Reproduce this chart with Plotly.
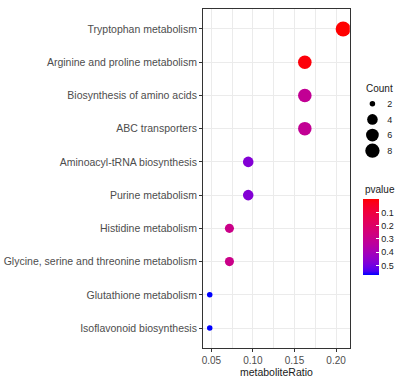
import numpy as np
import plotly.graph_objects as go

# ---------------- data ----------------
pathways = ["Isoflavonoid biosynthesis", "Glutathione metabolism",
            "Glycine, serine and threonine metabolism", "Histidine metabolism",
            "Purine metabolism", "Aminoacyl-tRNA biosynthesis", "ABC transporters",
            "Biosynthesis of amino acids", "Arginine and proline metabolism",
            "Tryptophan metabolism"]
ratio = [0.048, 0.048, 0.0717, 0.0717, 0.0943, 0.0943, 0.1624, 0.1624, 0.1624, 0.2085]
count = [2, 2, 3, 3, 4, 4, 7, 7, 7, 9]
pvalue = [0.573, 0.573, 0.287, 0.287, 0.476, 0.476, 0.316, 0.316, 0.013, 0.002]
legend_counts = [2, 4, 6, 8]
p_ticks = [0.1, 0.2, 0.3, 0.4, 0.5]
x_ticks = [0.05, 0.10, 0.15, 0.20]

FONT = "Liberation Sans, Arial, sans-serif"

# ---------- colour scale (Lab interpolation red -> blue, like ggplot) ----------
def srgb_to_lab(rgb):
    c = np.array(rgb, float) / 255
    c = np.where(c > 0.04045, ((c + 0.055) / 1.055) ** 2.4, c / 12.92)
    M = np.array([[0.4124, 0.3576, 0.1805], [0.2126, 0.7152, 0.0722], [0.0193, 0.1192, 0.9505]])
    xyz = M @ c / np.array([0.95047, 1.0, 1.08883])
    f = np.where(xyz > 0.008856, np.cbrt(xyz), 7.787 * xyz + 16 / 116)
    return np.array([116 * f[1] - 16, 500 * (f[0] - f[1]), 200 * (f[1] - f[2])])

def lab_to_srgb(lab):
    L, a, b = lab
    fy = (L + 16) / 116
    fx = fy + a / 500
    fz = fy - b / 200
    f = np.array([fx, fy, fz])
    xyz = np.where(f ** 3 > 0.008856, f ** 3, (f - 16 / 116) / 7.787) * np.array([0.95047, 1.0, 1.08883])
    Mi = np.array([[3.2406, -1.5372, -0.4986], [-0.9689, 1.8758, 0.0415], [0.0557, -0.2040, 1.0570]])
    c = Mi @ xyz
    c = np.clip(c, 0, 1)
    c = np.where(c > 0.0031308, 1.055 * c ** (1 / 2.4) - 0.055, 12.92 * c)
    r, g, b2 = np.round(np.clip(c, 0, 1) * 255).astype(int)
    return f"rgb({r},{g},{b2})"

lab_red = srgb_to_lab([255, 0, 0])
lab_blue = srgb_to_lab([0, 0, 255])
stops = np.linspace(0, 1, 21)
# colour value is -p so that low p (red) sits at the top of the bar
colorscale = [[float(s), lab_to_srgb(lab_blue + (lab_red - lab_blue) * s)] for s in stops]

pmin, pmax = min(pvalue), max(pvalue)

# ---------- size scale (area, like scale_size) ----------
cmin_, cmax_ = min(count), max(count)
def diam(c):
    c = np.asarray(c, float)
    return 5.5 + 9.5 * np.sqrt((c - cmin_) / (cmax_ - cmin_))

fig = go.Figure()
fig.add_trace(go.Scatter(
    x=ratio, y=pathways, mode="markers",
    marker=dict(size=diam(count), color=[-p for p in pvalue], colorscale=colorscale,
                cmin=-pmax, cmax=-pmin, opacity=1, line=dict(width=0),
                colorbar=dict(thickness=16, len=76, lenmode="pixels",
                              x=0.8137, xanchor="left", y=0.3265, yanchor="middle",
                              xpad=0, ypad=0, outlinewidth=0,
                              tickvals=[-t for t in p_ticks], ticktext=[f"{t:.1f}" for t in p_ticks],
                              ticks="inside", ticklen=3, tickcolor="white", tickwidth=1,
                              ticklabelposition="outside",
                              tickfont=dict(family=FONT, size=9, color="#1a1a1a"))),
    showlegend=False, hoverinfo="x+y"))

# Count legend
fig.add_trace(go.Scatter(
    x=[0] * len(legend_counts), y=[str(c) for c in legend_counts], mode="markers",
    marker=dict(size=diam(legend_counts), color="black", opacity=1, line=dict(width=0)),
    xaxis="x2", yaxis="y2", showlegend=False, hoverinfo="skip"))

grid = "#EBEBEB"
border = "#333333"
fig.update_layout(
    width=404, height=378,
    margin=dict(l=196, r=4, t=9, b=29),
    paper_bgcolor="white", plot_bgcolor="white",
    font=dict(family=FONT, color="#1a1a1a"),
    xaxis=dict(domain=[0, 152 / 204], range=[0.0399, 0.2165],
               tickvals=x_ticks, ticktext=[f"{t:.2f}" for t in x_ticks],
               showgrid=True, gridcolor=grid, gridwidth=1,
               minor=dict(dtick=0.025, tick0=0.025, showgrid=True, gridcolor=grid, gridwidth=0.5),
               ticks="outside", ticklen=3, tickcolor=border, tickwidth=1,
               showline=True, linecolor=border, linewidth=1, mirror=True,
               zeroline=False,
               tickfont=dict(family=FONT, size=10, color="#4D4D4D"),
               title=dict(text="metaboliteRatio", standoff=1,
                          font=dict(family=FONT, size=10.5, color="#1a1a1a"))),
    yaxis=dict(type="category", categoryorder="array", categoryarray=pathways,
               range=[-0.6, len(pathways) - 0.4],
               showgrid=True, gridcolor=grid, gridwidth=1,
               ticks="outside", ticklen=3, tickcolor=border, tickwidth=1,
               showline=True, linecolor=border, linewidth=1, mirror=True,
               zeroline=False,
               tickfont=dict(family=FONT, size=10.5, color="#4D4D4D")),
    xaxis2=dict(domain=[0.82, 0.90], range=[-1, 1], anchor="y2",
                visible=False, fixedrange=True),
    yaxis2=dict(domain=[0.559, 0.7435], anchor="x2", side="right",
                type="category", categoryorder="array", categoryarray=[str(c) for c in legend_counts],
                range=[len(legend_counts) - 0.5, -0.5],
                showgrid=False, zeroline=False, showline=False, ticks="",
                ticklabelstandoff=6,
                tickfont=dict(family=FONT, size=9, color="#1a1a1a")),
    annotations=[
        dict(text="Count", xref="paper", yref="paper", x=0.8186, y=0.765,
             xanchor="left", yanchor="middle", showarrow=False,
             font=dict(family=FONT, size=10, color="#1a1a1a")),
        dict(text="pvalue", xref="paper", yref="paper", x=0.8137, y=0.4676,
             xanchor="left", yanchor="middle", showarrow=False,
             font=dict(family=FONT, size=10, color="#1a1a1a")),
    ],
)

fig.write_html("out.html", config={"displayModeBar": False},
               post_script="document.body.style.margin='0';document.body.style.padding='0';")
